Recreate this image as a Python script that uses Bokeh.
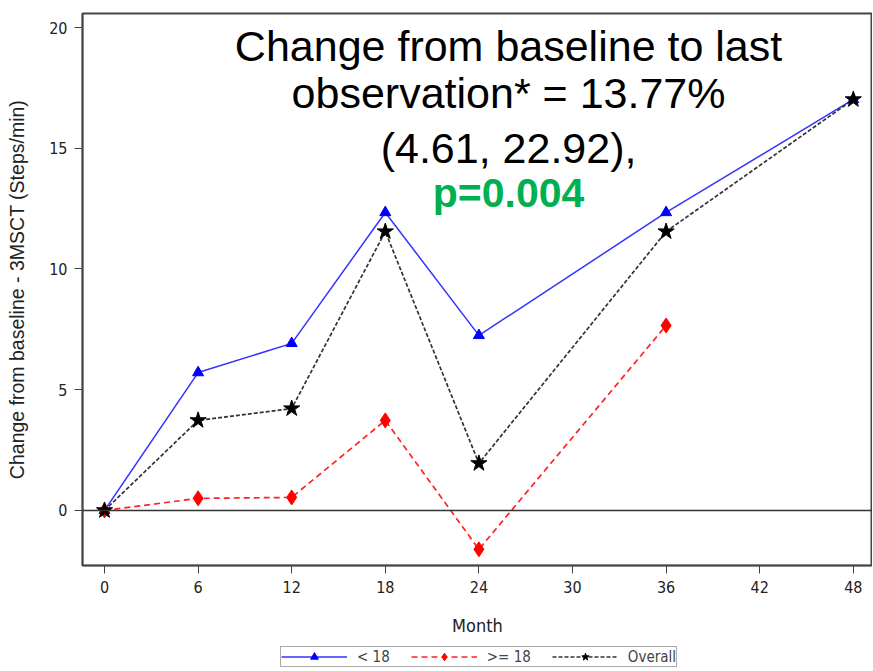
from bokeh.plotting import figure
from bokeh.layouts import column
from bokeh.models import Range1d, Span, Label, Legend, LegendItem, FixedTicker
from bokeh.embed import file_html
from bokeh.resources import INLINE

months_lt18 = [0, 6, 12, 18, 24, 36, 48]
vals_lt18 = [0.0, 5.71, 6.92, 12.34, 7.25, 12.34, 17.02]
months_ge18 = [0, 6, 12, 18, 24, 36]
vals_ge18 = [0.0, 0.5, 0.54, 3.73, -1.61, 7.66]
months_all = [0, 6, 12, 18, 24, 36, 48]
vals_all = [0.0, 3.73, 4.22, 11.55, 1.95, 11.55, 17.02]
x_ticks = [0, 6, 12, 18, 24, 30, 36, 42, 48]
y_ticks = [0, 5, 10, 15, 20]
series_labels = ["< 18", ">= 18", "Overall"]
annot_lines = ["Change from baseline to last", "observation* = 13.77%", "(4.61, 22.92),"]
annot_p = "p=0.004"

STYLES = [
    dict(line_color="#3333FF", line_width=1.5, line_dash="solid", marker="triangle", size=11, color="#0000FF"),
    dict(line_color="#FF2222", line_width=1.7, line_dash="6 4", marker="diamond", size=15, color="#FF0000"),
    dict(line_color="#333333", line_width=1.7, line_dash="4 2", marker="star", size=17, color="#000000"),
]

p = figure(frame_width=790, frame_height=552, output_backend="svg", toolbar_location=None,
           x_range=Range1d(-1.41, 49.23), y_range=Range1d(-2.28, 20.58),
           min_border_left=82, min_border_top=13, min_border_right=0, min_border_bottom=76)
p.xgrid.visible = False
p.ygrid.visible = False
p.outline_line_color = "#444444"
p.outline_line_width = 2

NARROW = "DejaVu Sans Condensed"
for ax in (p.xaxis[0], p.yaxis[0]):
    ax.axis_line_color = "#444444"
    ax.axis_line_width = 1.5
    ax.major_tick_line_color = "#444444"
    ax.major_tick_out = 8
    ax.major_tick_in = 0
    ax.minor_tick_line_color = None
    ax.major_label_text_font = NARROW
    ax.major_label_text_font_size = "16px"
    ax.major_label_text_color = "#222222"
    ax.axis_label_text_font_style = "normal"
    ax.axis_label_text_color = "#222222"

p.xaxis.ticker = FixedTicker(ticks=x_ticks)
p.yaxis.ticker = FixedTicker(ticks=y_ticks)
p.xaxis.axis_label = "Month"
p.xaxis.axis_label_text_font = NARROW
p.xaxis.axis_label_text_font_size = "18px"
p.xaxis.major_label_standoff = 7
p.xaxis.axis_label_standoff = 19
p.yaxis.axis_label = "Change from baseline - 3MSCT (Steps/min)"
p.yaxis.axis_label_text_font = "Liberation Sans"
p.yaxis.axis_label_text_font_size = "19.5px"
p.yaxis.major_label_standoff = 7
p.yaxis.axis_label_standoff = 18

p.add_layout(Span(location=0, dimension="width", line_color="#333333", line_width=1.5))

series = [(months_lt18, vals_lt18), (months_ge18, vals_ge18), (months_all, vals_all)]
for (xs, ys_), st in zip(series, STYLES):
    p.line(xs, ys_, line_color=st["line_color"], line_width=st["line_width"], line_dash=st["line_dash"])
    p.scatter(xs, ys_, marker=st["marker"], size=st["size"], fill_color=st["color"], line_color=st["color"])

ys = [19.25, 17.27, 15.03]
for t, yv in zip(annot_lines, ys):
    p.add_layout(Label(x=25.9, y=yv, text=t, text_align="center", text_baseline="middle",
                       text_font="Liberation Sans", text_font_size="43px", text_color="#000000"))
p.add_layout(Label(x=25.9, y=13.13, text=annot_p, text_align="center", text_baseline="middle",
                   text_font="Liberation Sans", text_font_size="41px", text_font_style="bold",
                   text_color="#00B050"))

# legend strip below the chart (its ranges keep the series themselves out of view)
lg = figure(width=872, height=29, output_backend="svg", toolbar_location=None,
            x_axis_location=None, y_axis_location=None,
            x_range=Range1d(1000, 1001), y_range=Range1d(1000, 1001),
            min_border_left=0, min_border_right=0, min_border_top=0, min_border_bottom=0)
lg.outline_line_color = None
lg.xgrid.visible = False
lg.ygrid.visible = False
items = []
for lab, (xs, ys_), st in zip(series_labels, series, STYLES):
    lr = lg.line(xs, ys_, line_color=st["line_color"], line_width=st["line_width"], line_dash=st["line_dash"])
    mr = lg.scatter(xs, ys_, marker=st["marker"], size=st["size"], fill_color=st["color"], line_color=st["color"])
    items.append(LegendItem(label=lab, renderers=[lr, mr]))
legend = Legend(items=items, orientation="horizontal", location=(198, 3),
                glyph_width=66, glyph_height=19, label_text_font=NARROW,
                label_text_font_size="15px", label_standoff=10, spacing=21,
                padding=0, margin=0, border_line_color="#555555", border_line_width=1.5,
                label_height=12)
lg.add_layout(legend, "center")

open("out.html", "w").write(file_html(column(p, lg), INLINE))
